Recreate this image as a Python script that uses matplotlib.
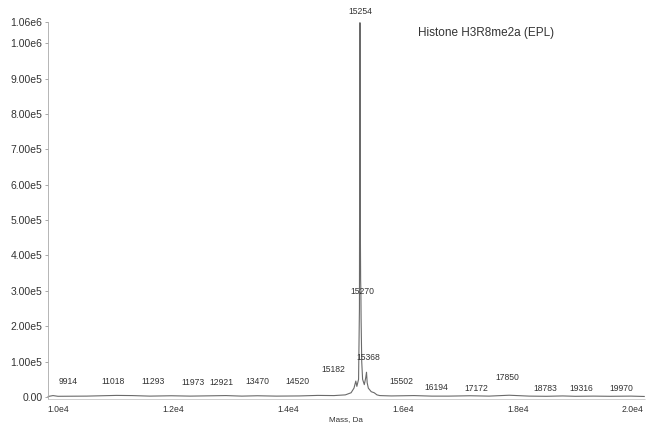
import matplotlib.pyplot as plt

plt.rcParams['font.family'] = ['Liberation Sans', 'DejaVu Sans']

# trace of the reconstructed spectrum (mass in Da, intensity in counts)
trace_mass = [9830, 9914, 10000, 10500, 11018, 11293, 11600, 11973, 12300, 12921,
              13200, 13470, 13800, 14200, 14520, 14800, 15000, 15100, 15150, 15182,
              15200, 15230, 15245, 15250, 15254, 15258, 15262, 15266, 15270, 15274,
              15285, 15300, 15330, 15355, 15368, 15380, 15400, 15450, 15502, 15550,
              15600, 15800, 16000, 16194, 16500, 16800, 17172, 17500, 17850, 18200,
              18500, 18783, 19000, 19316, 19600, 19970, 20200]
trace_int = [1500, 4000, 2000, 2500, 4500, 4000, 2500, 3500, 2500, 4000,
             2500, 3500, 2500, 3000, 4500, 4000, 6000, 12000, 25000, 45000,
             30000, 50000, 250000, 800000, 1058000, 800000, 450000, 330000, 300000, 220000,
             100000, 50000, 35000, 55000, 70000, 40000, 25000, 15000, 12000, 6000,
             4000, 3000, 3500, 4000, 2500, 2500, 3500, 2500, 5000, 2500,
             2000, 3000, 2000, 2500, 2000, 2500, 1500]

# peak annotations: text, label anchor (mass, intensity)
peak_text = ['15254', '15270', '15368', '15182', '9914', '11018', '11293', '11973',
             '12921', '13470', '14520', '15502', '16194', '17172', '17850', '18783',
             '19316', '19970']
label_mass = [15254, 15290, 15391, 14783, 10174, 10957, 11652, 12348,
              12852, 13478, 14174, 15983, 16591, 17287, 17826, 18470,
              19113, 19809]
label_int = [1090000, 297000, 113000, 79000, 45000, 45000, 45000, 40000,
             42000, 45000, 45000, 45000, 28000, 25000, 54000, 23000,
             23000, 23000]

ytick_vals = [0, 1e5, 2e5, 3e5, 4e5, 5e5, 6e5, 7e5, 8e5, 9e5, 1e6, 1.06e6]
ytick_labels = ['0.00', '1.00e5', '2.00e5', '3.00e5', '4.00e5', '5.00e5', '6.00e5',
                '7.00e5', '8.00e5', '9.00e5', '1.00e6', '1.06e6']
xtick_vals = [10000, 12000, 14000, 16000, 18000, 20000]
xtick_labels = ['1.0e4', '1.2e4', '1.4e4', '1.6e4', '1.8e4', '2.0e4']

fig = plt.figure(figsize=(6.48, 4.23), dpi=100)
ax = fig.add_axes([0.074, 0.0567, 0.921, 0.8913])

ax.plot(trace_mass, trace_int, color='#6a6a6a', linewidth=0.8, clip_on=False)

for t, mx, iy in zip(peak_text, label_mass, label_int):
    ax.text(mx, iy, t, fontsize=6.2, color='#333333', ha='center', va='center',
            clip_on=False)

ax.text(0.62, 0.97, 'Histone H3R8me2a (EPL)', transform=ax.transAxes,
        fontsize=8.5, color='#333333', ha='left', va='center')

ax.set_xlim(9826, 20209)
ax.set_ylim(-5700, 1.06e6)
ax.set_yticks(ytick_vals)
ax.set_yticklabels(ytick_labels)
ax.set_xticks(xtick_vals)
ax.set_xticklabels(xtick_labels)
ax.tick_params(axis='y', labelsize=7.5, length=2.5, width=0.6, colors='#999999',
               labelcolor='#333333', pad=1.5)
ax.tick_params(axis='x', labelsize=6.2, length=0, labelcolor='#333333', pad=4)

ax.set_xlabel('Mass, Da', fontsize=5.8, color='#333333', labelpad=2)

for s in ['top', 'right']:
    ax.spines[s].set_visible(False)
ax.spines['left'].set_color('#aaaaaa')
ax.spines['left'].set_linewidth(0.6)
ax.spines['bottom'].set_color('#c8c8c8')
ax.spines['bottom'].set_linewidth(0.6)
ax.spines['bottom'].set_linestyle((0, (2, 1)))

fig.savefig('out.png', dpi=100)
